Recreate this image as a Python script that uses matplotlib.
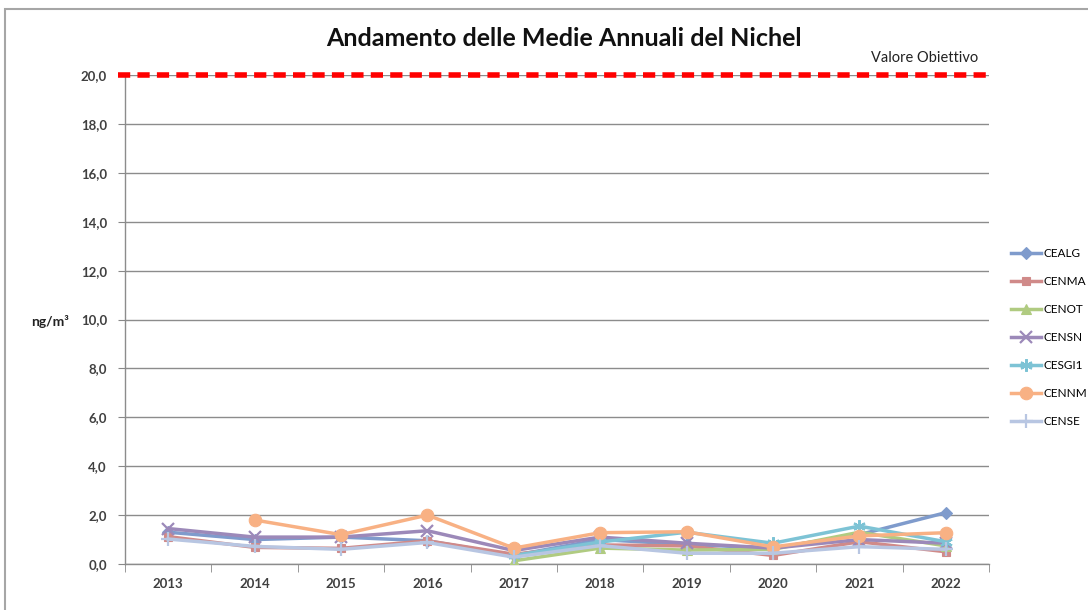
import matplotlib.pyplot as plt
import numpy as np
from matplotlib.patches import Rectangle

plt.rcParams['font.family'] = ['Lato', 'DejaVu Sans']

#% Data
years = ['2013', '2014', '2015', '2016', '2017', '2018', '2019', '2020', '2021', '2022']
nan = np.nan
cealg = [1.30, 1.00, 1.10, 0.95, 0.35, 1.00, 0.80, 0.65, 1.20, 2.10]
cenma = [1.12, 0.68, 0.64, 0.95, 0.40, 0.78, 0.74, 0.35, 0.91, 0.50]
cenot = [nan, nan, nan, nan, 0.13, 0.65, 0.57, 0.60, 1.30, 0.74]
censn = [1.45, 1.10, 1.10, 1.36, 0.55, 1.10, 0.85, 0.65, 1.00, 0.85]
cesgi = [nan, nan, nan, nan, 0.35, 0.90, 1.30, 0.85, 1.55, 0.91]
cennm = [nan, 1.80, 1.20, 2.00, 0.65, 1.28, 1.32, 0.70, 1.15, 1.28]
cense = [1.02, 0.72, 0.60, 0.88, 0.28, 0.75, 0.44, 0.44, 0.71, 0.60]
# legend names as far as they are visible in the (cropped) chart
series_names = ['CEALG', 'CENMA', 'CENOT', 'CENSN', 'CESGI1', 'CENNM', 'CENSE']
target = 20.0
yticks = [0, 2, 4, 6, 8, 10, 12, 14, 16, 18, 20]
ytick_labels = ['0,0', '2,0', '4,0', '6,0', '8,0', '10,0', '12,0', '14,0', '16,0', '18,0', '20,0']

#% Styles
colors = ['#7F9BCC', '#D08A89', '#B0CB81', '#9C89B9', '#7DC3D5', '#F8B184', '#B8C6E2']
markers = ['D', 's', '^', 'x', (6, 2, 0), 'o', '+']
msizes = [6, 6, 7, 8, 9, 9, 10]

fig = plt.figure(figsize=(10.88, 6.10), dpi=100)
# chart frame (cut off at right and bottom like the screenshot)
fig.patches.append(Rectangle((5/1088, -0.1), 1.2, 1 - 9/610 + 0.1, transform=fig.transFigure,
                             fill=False, edgecolor='#A6A6A6', linewidth=1.5))
ax = fig.add_axes([125/1088, 1 - 564/610, 864/1088, 489/610])

x = np.arange(len(years))
data = [cealg, cenma, cenot, censn, cesgi, cennm, cense]
handles = []
for vals, name, c, m, ms in zip(data, series_names, colors, markers, msizes):
    h, = ax.plot(x, vals, color=c, marker=m, markersize=ms, linewidth=2.5,
                 markeredgewidth=1.6 if m in ('x', '+', (6, 2, 0)) else 0.8,
                 markeredgecolor=c, label=name, zorder=3)
    handles.append(h)

ax.plot([-0.58, 9.47], [target, target], color='#FF0000', linewidth=4,
        linestyle=(0, (2.2, 1.3)), zorder=4, clip_on=False)
fig.text(925/1088, 1 - 58/610, 'Valore Obiettivo', ha='center', va='center', fontsize=10.5, color='#222222')

ax.set_xlim(-0.5, len(years) - 0.5)
ax.set_ylim(0, 20)
ax.set_yticks(yticks)
ax.set_yticklabels(ytick_labels)
ax.set_xticks(x)
ax.set_xticklabels(years)
ax.set_xticks(np.arange(len(years) + 1) - 0.5, minor=True)
ax.tick_params(axis='x', which='major', length=0, pad=10)
ax.tick_params(axis='x', which='minor', length=6, color='#888888', direction='out')
ax.tick_params(axis='y', length=5, color='#888888', direction='out', pad=8)
for lab in ax.get_xticklabels() + ax.get_yticklabels():
    lab.set_fontweight('bold')
    lab.set_fontsize(9.5)
    lab.set_color('#404040')

ax.grid(axis='y', color='#8C8C8C', linewidth=1)
ax.set_axisbelow(True)
for s in ['top', 'right']:
    ax.spines[s].set_visible(False)
for s in ['left', 'bottom']:
    ax.spines[s].set_color('#8C8C8C')
    ax.spines[s].set_linewidth(1)

fig.text(50/1088, 1 - 321/610, 'ng/m³', ha='center', va='center', fontsize=10, fontweight='bold', color='#222222')
fig.text(564/1088, 1 - 38/610, 'Andamento delle Medie Annuali del Nichel', ha='center', va='center',
         fontsize=18, fontweight='bold', color='#111111')

fig.legend(handles=handles, loc='upper left', bbox_to_anchor=(1006/1088, 1 - 243/610),
           frameon=False, fontsize=8.5, handlelength=2.6, handletextpad=0.2, labelspacing=1.45,
           borderaxespad=0)

plt.savefig('out.png', dpi=100)
